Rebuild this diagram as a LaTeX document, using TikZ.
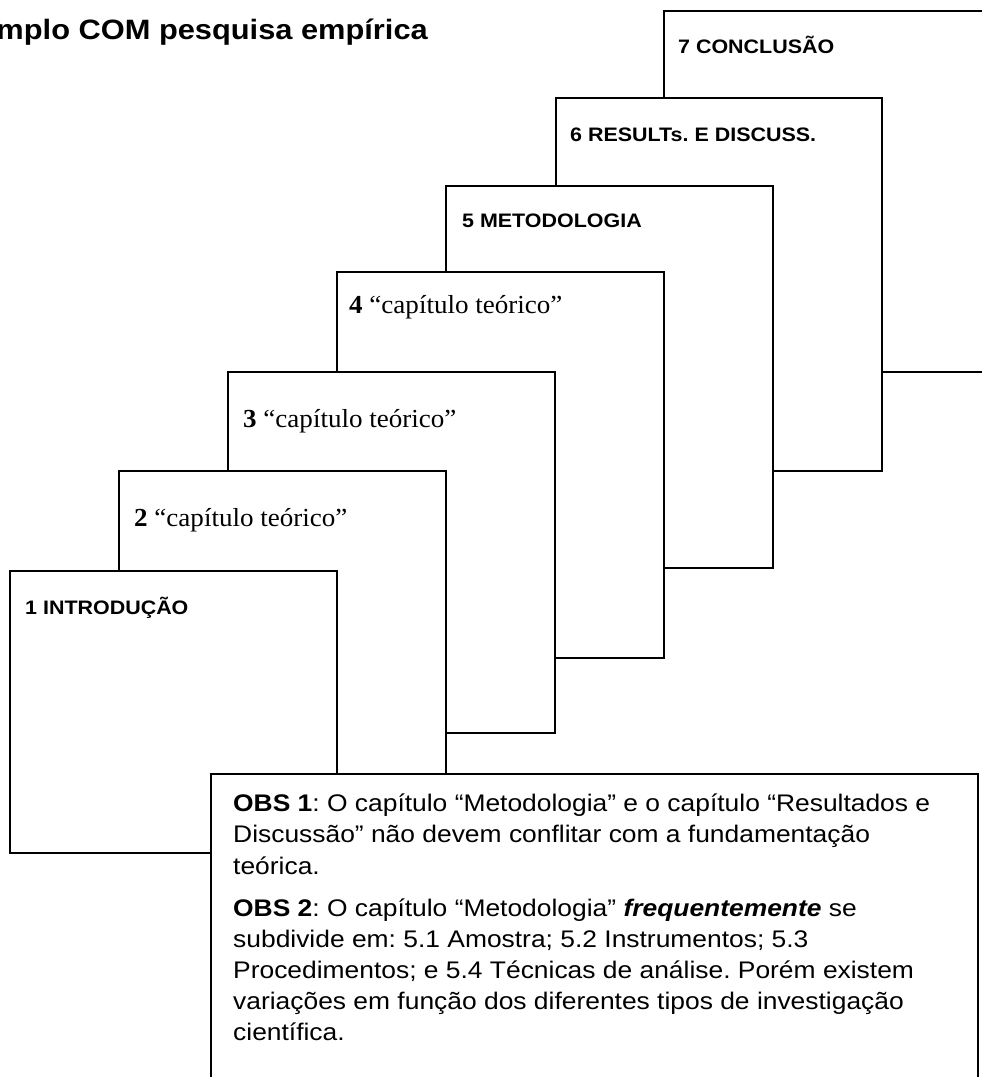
\documentclass[tikz,border=0pt]{standalone}
\usepackage{fontspec}
\setmainfont{Liberation Serif}[FakeStretch=1.04]
\newfontfamily\arial{Liberation Sans}[FakeStretch=1.1]
\frenchspacing
\begin{document}
\begin{tikzpicture}[x=1pt,y=-1pt,
  page/.style={draw=black, line width=2pt, fill=white},
  obsbox/.style={draw=black, line width=1.4pt, fill=white},
  lab/.style={anchor=base west, inner sep=0pt, font=\arial\bfseries\fontsize{19.5}{23}\selectfont},
  slab/.style={anchor=base west, inner sep=0pt, font=\fontsize{26}{30}\selectfont},
  obsline/.style={anchor=base west, inner sep=0pt, font=\arial\fontsize{24}{30}\selectfont},
  titlestyle/.style={anchor=base east, inner sep=0pt, font=\arial\bfseries\fontsize{28}{32}\selectfont}]
\useasboundingbox (0,0) rectangle (982,1077);
\fill[white] (0,0) rectangle (982,1077);

\node[titlestyle] (title) at (428,39) {mplo COM pesquisa empírica};

% pages, back to front
\draw[page] (664,11) rectangle (1010,372);
\node[lab] (t7) at (678,53) {7 CONCLUSÃO};

\draw[page] (556,98) rectangle (882,471);
\node[lab] (t6) at (570,141) {6 RESULTs. E DISCUSS.};

\draw[page] (446,186) rectangle (773,568);
\node[lab] (t5) at (462,227) {5 METODOLOGIA};

\draw[page] (337,272) rectangle (664,658);
\node[slab] (t4) at (349,313) {\textbf{4} “capítulo teórico”};

\draw[page] (228,372) rectangle (555,733);
\node[slab] (t3) at (243,427) {\textbf{3} “capítulo teórico”};

\draw[page] (119,471) rectangle (446,800);
\node[slab] (t2) at (134,526) {\textbf{2} “capítulo teórico”};

\draw[page] (10,571) rectangle (337,853);
\node[lab] (t1) at (25,614) {1 INTRODUÇÃO};

% observation box
\draw[obsbox] (211,774) rectangle (978,1100);
\node[obsline] (o1a) at (233,811) {\textbf{OBS 1}: O capítulo “Metodologia” e o capítulo “Resultados e};
\node[obsline] (o1b) at (233,842) {Discussão” não devem conflitar com a fundamentação};
\node[obsline] (o1c) at (233,874) {teórica.};
\node[obsline] (o2a) at (233,916) {\textbf{OBS 2}: O capítulo “Metodologia” \textbf{\textit{frequentemente}} se};
\node[obsline] (o2b) at (233,947) {subdivide em: 5.1 Amostra; 5.2 Instrumentos; 5.3};
\node[obsline] (o2c) at (233,978) {Procedimentos; e 5.4 Técnicas de análise. Porém existem};
\node[obsline] (o2d) at (233,1009) {variações em função dos diferentes tipos de investigação};
\node[obsline] (o2e) at (233,1040) {científica.};
\end{tikzpicture}
\end{document}
